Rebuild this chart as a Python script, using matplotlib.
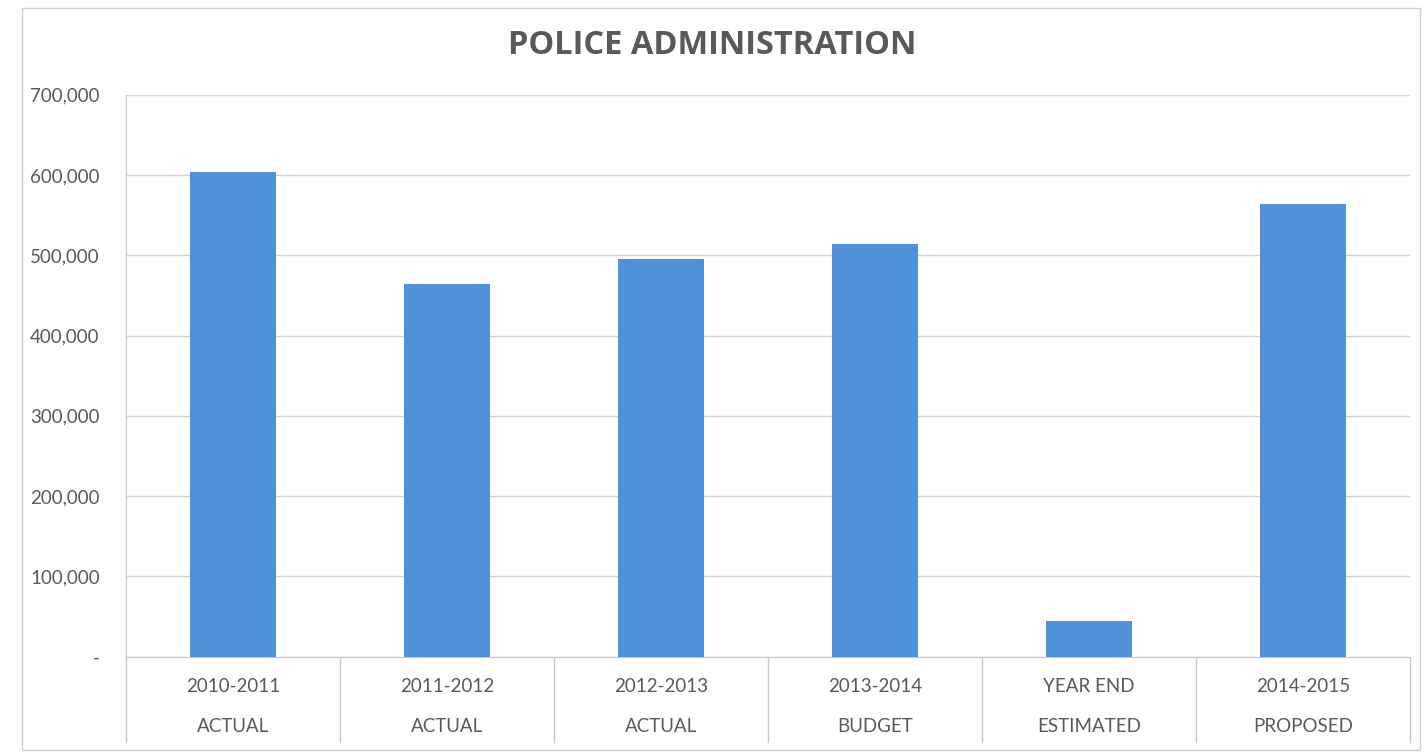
import matplotlib
matplotlib.use("Agg")
from matplotlib import pyplot as plt
from matplotlib.ticker import FuncFormatter, MultipleLocator
import matplotlib.transforms as mtransforms
from matplotlib.patches import Rectangle

# data
years = ["2010-2011", "2011-2012", "2012-2013", "2013-2014", "YEAR END", "2014-2015"]
kinds = ["ACTUAL", "ACTUAL", "ACTUAL", "BUDGET", "ESTIMATED", "PROPOSED"]
amounts = [603500, 464000, 495000, 514000, 45000, 564000]

plt.rcParams['font.family'] = ['Lato', 'DejaVu Sans']
text_c = '#595959'
line_c = '#c8c8c8'

fig = plt.figure(figsize=(14.24, 7.55), dpi=100)
ax = fig.add_axes([126 / 1424, 1 - 656.7 / 755, (1410 - 126) / 1424, (656.7 - 94.7) / 755])

x = list(range(len(amounts)))
ax.bar(x, amounts, width=0.4, color='#5092d8', zorder=3)

ax.set_xlim(-0.5, len(amounts) - 0.5)
ax.set_ylim(0, 700000)
ax.yaxis.set_major_locator(MultipleLocator(100000))
ax.yaxis.set_major_formatter(FuncFormatter(lambda v, p: '-' if v == 0 else f'{v:,.0f}'))
ax.grid(axis='y', color='#d4d4d4', linewidth=1, zorder=0)
ax.tick_params(axis='y', length=0, pad=19, labelsize=13.5, labelcolor=text_c)

for s in ['top', 'right']:
    ax.spines[s].set_visible(False)
ax.spines['bottom'].set_color(line_c)
ax.spines['left'].set_color(line_c)

# two-level category labels with separators below the axis
ax.set_xticks([])
trans = mtransforms.blended_transform_factory(ax.transData, ax.transAxes)
depth = -(742 - 656.7) / 562
for i in range(len(amounts) + 1):
    ax.plot([i - 0.5, i - 0.5], [0, depth], color=line_c, lw=1, transform=trans, clip_on=False)
for i in x:
    ax.text(i, -(687 - 656.7) / 562, years[i], transform=trans, ha='center', va='center',
            fontsize=13.5, color=text_c)
    ax.text(i, -(727 - 656.7) / 562, kinds[i], transform=trans, ha='center', va='center',
            fontsize=13.5, color=text_c)

fig.text(0.5, 1 - 46 / 755, "POLICE ADMINISTRATION", ha='center', va='center',
         fontsize=23.5, fontweight='bold', color=text_c, family=['Open Sans', 'DejaVu Sans'])

# outer chart border
fig.patches.append(Rectangle((22 / 1424, 1 - 750 / 755), (1420 - 22) / 1424, (750 - 8) / 755,
                             transform=fig.transFigure, fill=False, edgecolor='#d0d0d0', lw=1))

plt.savefig('out.png', dpi=100)
